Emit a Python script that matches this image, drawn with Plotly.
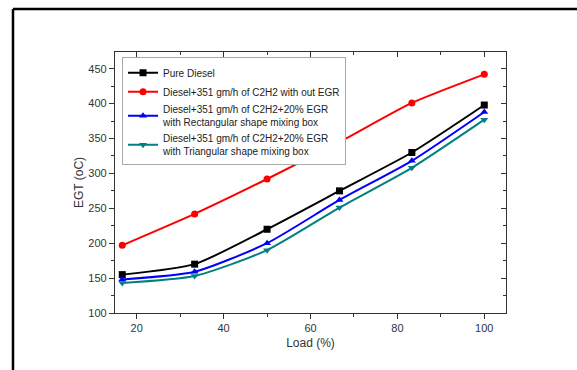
import plotly.graph_objects as go

# Engine load (%) and exhaust gas temperature (°C)
load = [16.67, 33.33, 50, 66.67, 83.33, 100]
pure_diesel = [155, 170, 220, 275, 330, 398]
c2h2_no_egr = [197, 242, 292, 345, 401, 442]
c2h2_egr_rect = [148, 159, 200, 262, 318, 388]
c2h2_egr_tri = [143, 153, 190, 251, 308, 377]

series = [
    ("Pure Diesel", pure_diesel, "#000000", "square"),
    ("Diesel+351 gm/h of C2H2 with out EGR", c2h2_no_egr, "#ff0000", "circle"),
    ("Diesel+351 gm/h of C2H2+20% EGR<br>with Rectangular shape mixing box", c2h2_egr_rect, "#0000ff", "triangle-up"),
    ("Diesel+351 gm/h of C2H2+20% EGR<br>with Triangular shape mixing box", c2h2_egr_tri, "#008080", "triangle-down"),
]

x_range = [15, 105]
y_range = [100, 474]

fig = go.Figure()
for name, vals, color, symbol in series:
    fig.add_trace(go.Scatter(
        x=load, y=vals, name=name, mode="lines+markers",
        line=dict(color=color, width=2, shape="spline", smoothing=0.6),
        marker=dict(symbol=symbol, size=7, color=color),
    ))

# invisible trace carrying the mirrored top/right axes
fig.add_trace(go.Scatter(x=[None], y=[None], xaxis="x2", yaxis="y2",
                         showlegend=False, hoverinfo="skip"))

axis_font = dict(family="Liberation Sans, Arial", size=11, color="#333333")
fig.update_layout(
    width=577, height=370,
    margin=dict(l=115, r=71, t=52, b=57),
    paper_bgcolor="white", plot_bgcolor="white",
    font=dict(family="Liberation Sans, Arial", color="#333333"),
    xaxis=dict(
        range=x_range, dtick=20, tick0=0, showgrid=False, zeroline=False,
        showline=True, linecolor="#333333", linewidth=1.2,
        ticks="outside", ticklen=5, tickcolor="#333333", tickfont=axis_font,
        minor=dict(dtick=10, tick0=0, ticks="outside", ticklen=3, tickcolor="#333333"),
        title=dict(text="Load (%)", font=dict(size=12, color="#333333"), standoff=5),
    ),
    yaxis=dict(
        range=y_range, dtick=50, tick0=0, showgrid=False, zeroline=False,
        showline=True, linecolor="#333333", linewidth=1.2,
        ticks="outside", ticklen=5, tickcolor="#333333", tickfont=axis_font,
        minor=dict(dtick=25, tick0=0, ticks="outside", ticklen=3, tickcolor="#333333"),
        title=dict(text="EGT (oC)", font=dict(size=12, color="#333333"), standoff=2),
    ),
    xaxis2=dict(
        range=x_range, dtick=20, tick0=0, overlaying="x", side="top",
        showgrid=False, zeroline=False, showticklabels=False,
        showline=True, linecolor="#333333", linewidth=1.2,
        ticks="inside", ticklen=5, tickcolor="#333333",
        minor=dict(dtick=10, tick0=0, ticks="inside", ticklen=3, tickcolor="#333333"),
    ),
    yaxis2=dict(
        range=y_range, dtick=50, tick0=0, overlaying="y", side="right",
        showgrid=False, zeroline=False, showticklabels=False,
        showline=True, linecolor="#333333", linewidth=1.2,
        ticks="inside", ticklen=5, tickcolor="#333333",
        minor=dict(dtick=25, tick0=0, ticks="inside", ticklen=3, tickcolor="#333333"),
    ),
    legend=dict(
        x=0.018, y=0.98, xanchor="left", yanchor="top",
        bgcolor="white", bordercolor="#aaaaaa", borderwidth=1,
        font=dict(family="Liberation Sans, Arial", size=10, color="#222222"),
        tracegroupgap=0, itemwidth=30,
    ),
    showlegend=True,
)

# outer page frame (left and top edges)
fig.add_shape(type="line", xref="paper", yref="paper",
              x0=-0.2609, y0=-0.3, x1=-0.2609, y1=1.1648,
              line=dict(color="black", width=2.5))
fig.add_shape(type="line", xref="paper", yref="paper",
              x0=-0.2609, y0=1.1648, x1=1.3, y1=1.1648,
              line=dict(color="black", width=2.5))

fig.write_html("out.html")
